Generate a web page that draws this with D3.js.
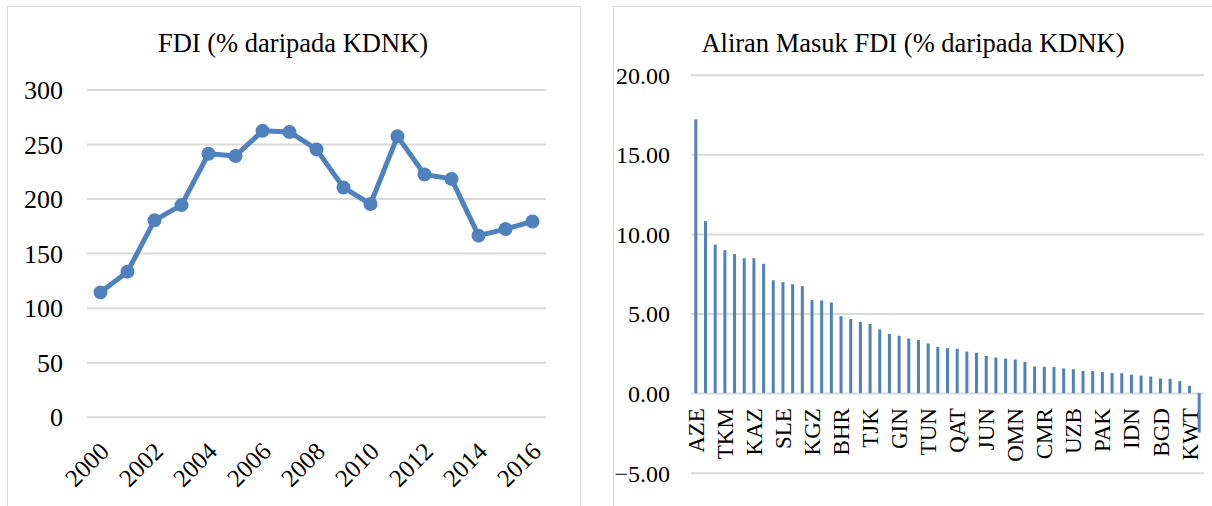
<!DOCTYPE html>
<html>
<head>
<meta charset="utf-8">
<script src="https://cdn.jsdelivr.net/npm/d3@7"></script>
<style>
  body { margin: 0; background: #fff; }
  text { font-family: "Liberation Serif", "Times New Roman", serif; fill: #000; }
</style>
</head>
<body>
<div id="chart"></div>
<script>
// Left chart data: FDI (% of GDP) by year
const years = ["2000","2001","2002","2003","2004","2005","2006","2007","2008",
               "2009","2010","2011","2012","2013","2014","2015","2016"];
const fdiValues = [114, 133, 180, 194, 241, 239, 262, 261, 245, 210, 195, 257, 222, 218, 166, 172, 179];
const leftTicks = [0, 50, 100, 150, 200, 250, 300];

// Right chart data: FDI inflows (% of GDP) by country, sorted
// only every third country code is printed on the axis
const countryLabels = ["AZE","TKM","KAZ","SLE","KGZ","BHR","TJK","GIN","TUN",
                       "QAT","JUN","OMN","CMR","UZB","PAK","IDN","BGD","KWT"];
const inflowValues = [17.2, 10.8, 9.33, 8.98, 8.73, 8.47, 8.47, 8.12, 7.09, 6.97,
                      6.84, 6.72, 5.84, 5.82, 5.69, 4.83, 4.65, 4.48, 4.35, 4.0,
                      3.72, 3.6, 3.43, 3.33, 3.12, 2.89, 2.82, 2.78, 2.61, 2.53,
                      2.34, 2.24, 2.17, 2.11, 1.97, 1.67, 1.65, 1.64, 1.55, 1.5,
                      1.4, 1.38, 1.32, 1.26, 1.25, 1.15, 1.1, 1.04, 0.92, 0.9,
                      0.75, 0.46, -2.47];
const rightTicks = [-5, 0, 5, 10, 15, 20];

const blue = "#4f81bd";
const gridColor = "#d9d9d9";

const svg = d3.select("#chart").append("svg")
    .attr("width", 1212)
    .attr("height", 506);

// Panel borders
svg.append("rect")
    .attr("x", 7.5).attr("y", 6.5)
    .attr("width", 573).attr("height", 510)
    .attr("fill", "none").attr("stroke", gridColor);

svg.append("rect")
    .attr("x", 613.5).attr("y", 6.5)
    .attr("width", 610).attr("height", 510)
    .attr("fill", "none").attr("stroke", gridColor);

// ---------- Left chart ----------
const xLeft = d3.scaleBand()
    .domain(years)
    .range([87, 546]);

const yLeft = d3.scaleLinear()
    .domain([0, 300])
    .range([416.8, 89.4]);

// gridlines + y labels
const gLeftY = svg.append("g")
    .attr("transform", `translate(87,0)`)
    .call(d3.axisLeft(yLeft).tickValues(leftTicks).tickSize(-459).tickPadding(24));
gLeftY.select(".domain").remove();
gLeftY.selectAll("line").attr("stroke", gridColor).attr("stroke-width", 2);
gLeftY.selectAll("text").style("font-size", "26px").attr("dy", "0.35em");

// x labels (every other year, rotated)
const gLeftX = svg.append("g")
    .attr("transform", `translate(0,416.8)`)
    .call(d3.axisBottom(xLeft)
        .tickValues(years.filter((d, i) => i % 2 === 0))
        .tickSize(0));
gLeftX.select(".domain").remove();
gLeftX.selectAll("text")
    .style("font-size", "25px")
    .attr("text-anchor", "end")
    .attr("dy", null)
    .attr("y", 0)
    .attr("transform", "translate(10,36) rotate(-45)");

svg.append("text")
    .attr("x", 293)
    .attr("y", 52)
    .attr("text-anchor", "middle")
    .style("font-size", "26.5px")
    .text("FDI (% daripada KDNK)");

const line = d3.line()
    .x((d, i) => xLeft(years[i]) + xLeft.bandwidth() / 2)
    .y(d => yLeft(d));

svg.append("path")
    .datum(fdiValues)
    .attr("fill", "none")
    .attr("stroke", blue)
    .attr("stroke-width", 5)
    .attr("stroke-linejoin", "round")
    .attr("d", line);

svg.selectAll(".dot")
    .data(fdiValues)
    .join("circle")
    .attr("class", "dot")
    .attr("cx", (d, i) => xLeft(years[i]) + xLeft.bandwidth() / 2)
    .attr("cy", d => yLeft(d))
    .attr("r", 7)
    .attr("fill", blue);

// ---------- Right chart ----------
const xRight = d3.scaleBand()
    .domain(d3.range(inflowValues.length))
    .range([691, 1204]);

const yRight = d3.scaleLinear()
    .domain([-5, 20])
    .range([472.7, 74.7]);

const gRightY = svg.append("g")
    .attr("transform", `translate(691,0)`)
    .call(d3.axisLeft(yRight).tickValues(rightTicks).tickSize(-513).tickPadding(21)
        .tickFormat(d3.format(".2f")));
gRightY.select(".domain").remove();
gRightY.selectAll("line").attr("stroke", gridColor).attr("stroke-width", 2);
gRightY.selectAll("text").style("font-size", "24px").attr("dy", "0.35em");

const gRightX = svg.append("g")
    .attr("transform", `translate(0,${yRight(0)})`)
    .call(d3.axisBottom(xRight)
        .tickValues(d3.range(0, inflowValues.length, 3).filter(i => i / 3 < countryLabels.length))
        .tickFormat(i => countryLabels[i / 3])
        .tickSize(0));
gRightX.select(".domain").remove();
gRightX.selectAll("text")
    .style("font-size", "23px")
    .attr("text-anchor", "end")
    .attr("dy", "0.35em")
    .attr("y", 0)
    .attr("transform", "translate(0,15) rotate(-90)");

svg.append("text")
    .attr("x", 913)
    .attr("y", 52)
    .attr("text-anchor", "middle")
    .style("font-size", "26.5px")
    .text("Aliran Masuk FDI (% daripada KDNK)");

svg.selectAll(".bar")
    .data(inflowValues)
    .join("rect")
    .attr("class", "bar")
    .attr("x", (d, i) => xRight(i) + xRight.bandwidth() / 2 - 1.5)
    .attr("width", 3)
    .attr("y", d => yRight(Math.max(0, d)))
    .attr("height", d => Math.abs(yRight(d) - yRight(0)))
    .attr("fill", blue);
</script>
</body>
</html>
